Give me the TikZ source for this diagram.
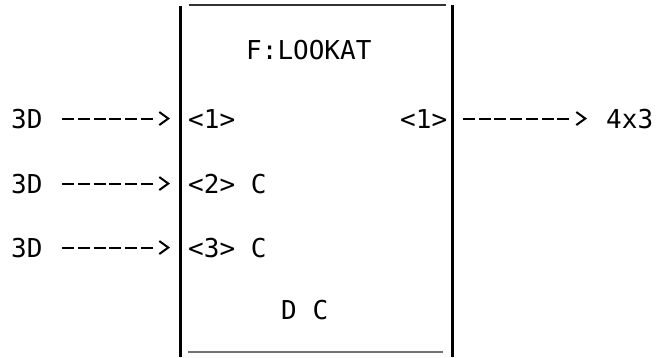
\documentclass[tikz,border=0pt]{standalone}
\usepackage{fontspec}
\usetikzlibrary{arrows.meta}
\newfontfamily\mono{DejaVu Sans Mono}
\begin{document}
\begin{tikzpicture}[x=1pt,y=-1pt,
  txt/.style={font=\mono\fontsize{26}{26}\selectfont, inner sep=0pt, anchor=base west},
  wall/.style={line width=2.3pt},
  rule/.style={line width=1.5pt, black!80},
  conn/.style={line width=2pt,
    -{Straight Barb[length=9pt,width=13pt,line width=2pt]}},
  sixdash/.style={dash pattern=on 12pt off 3.7pt on 12pt off 3.7pt on 12pt off 3.7pt
    on 12pt off 3.7pt on 12pt off 3.7pt on 12pt off 80pt},
  sevendash/.style={dash pattern=on 12pt off 3.7pt on 12pt off 3.7pt on 12pt off 3.7pt
    on 12pt off 3.7pt on 12pt off 3.7pt on 12pt off 3.7pt on 12pt off 80pt}]
\useasboundingbox (0,0) rectangle (659,357);
% box
\draw[wall] (180.5,6) -- (180.5,357);
\draw[wall] (452.5,5) -- (452.5,357);
\draw[rule] (189,5) -- (446,5);
\draw[rule, black!55] (188,352) -- (443,352);
% coordinates on the walls
\coordinate (l1) at (170,118);
\coordinate (l2) at (170,184);
\coordinate (l3) at (170,247);
\coordinate (r1) at (453,118);
% texts
\node[txt] (title) at (246,59) {F:LOOKAT};
\node[txt] (in1) at (11,128) {3D};
\node[txt] (in2) at (11,193) {3D};
\node[txt] (in3) at (11,257) {3D};
\node[txt] (p1) at (188,128) {<1>};
\node[txt] (p2) at (188,193) {<2> C};
\node[txt] (p3) at (188,257) {<3> C};
\node[txt] (q1) at (400,128) {<1>};
\node[txt] (dc) at (281,319) {D C};
\node[txt] (out1) at (606,128) {4x3};
% connectors
\draw[conn, sixdash, shorten <=19.5pt] (in1.east) -- (in1.east -| l1);
\draw[conn, sixdash, shorten <=19.5pt] (in2.east) -- (in2.east -| l2);
\draw[conn, sixdash, shorten <=19.5pt] (in3.east) -- (in3.east -| l3);
\draw[conn, sevendash, shorten <=10pt, shorten >=19pt] (r1 |- out1.west) -- (out1.west);
\end{tikzpicture}
\end{document}
